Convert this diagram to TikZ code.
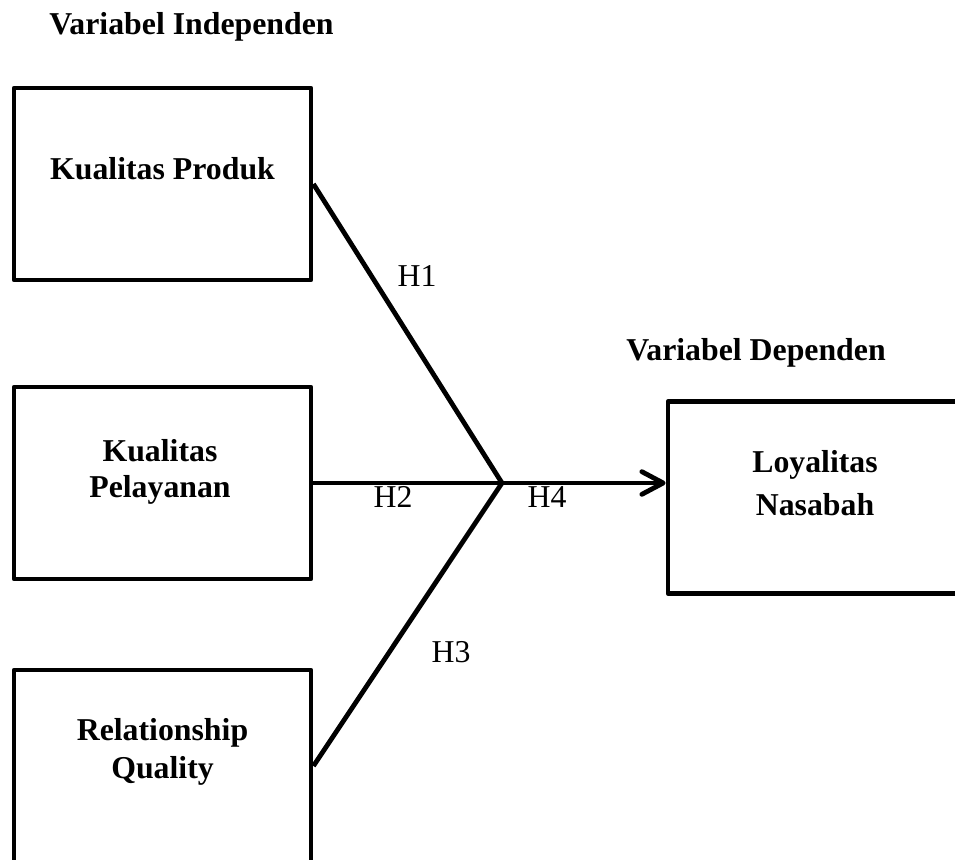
\documentclass[tikz,border=0pt]{standalone}
\usepackage{fontspec}
\setmainfont{Liberation Serif}
\usetikzlibrary{arrows.meta}

\tikzset{
  varbox/.style={draw, line width=3.6pt, line join=round, minimum width=222.75pt, minimum height=144pt, inner sep=0pt},
  link/.style={line width=3.6pt},
  headtxt/.style={font=\bfseries\fontsize{23.85}{28.5}\selectfont, anchor=base, inner sep=0pt},
  boxtxt/.style={font=\bfseries\fontsize{23.85}{28.5}\selectfont, align=center, inner sep=0pt},
  hyptxt/.style={font=\fontsize{23.85}{28.5}\selectfont, anchor=base, inner sep=0pt}
}

\begin{document}
\begin{tikzpicture}[x=0.75pt,y=0.75pt,yscale=-1,xscale=1]
    \useasboundingbox (0,0) rectangle (955,859);

    %Shape: Rectangle [Kualitas Produk]
    \node[varbox] (kp) at (162.5,184) {};
    %Shape: Rectangle [Kualitas Pelayanan]
    \node[varbox] (kpl) at (162.5,483) {};
    %Shape: Rectangle [Relationship Quality]
    \node[varbox] (rq) at (162.5,766) {};
    %Shape: Rectangle [Loyalitas Nasabah]
    \node[varbox] (ln) at (816.5,497.5) {};

    \coordinate (hub) at (502,483);

    %Straight Lines
    \draw[link] (kp.east) -- (hub) -- (rq.east);
    %Straight Lines
    \draw[link] (kpl.east) -- (hub);
    %Straight Lines
    \draw[link,-{Straight Barb[length=16pt,width=17pt,round]}] (hub) -- (hub -| ln.west);

    % Text Node
    \node[headtxt] (indep) at (191.5,35) {Variabel Independen};
    % Text Node
    \node[headtxt] (dep) at (756,360) {Variabel Dependen};
    % Text Node
    \node[boxtxt,anchor=base] (kptxt) at (162.5,180) {Kualitas Produk};
    % Text Node
    \node[boxtxt] (kpltxt) at (160,472) {Kualitas\\[-1.5pt]Pelayanan};
    % Text Node
    \node[boxtxt] (rqtxt) at (162.5,752) {Relationship\\Quality};
    % Text Node
    \node[boxtxt] (lntxt) at (815,483) {Loyalitas\\[3.75pt]Nasabah};
    % Text Node
    \node[hyptxt] (h1) at (417,286) {H1};
    % Text Node
    \node[hyptxt] (h2) at (393,507) {H2};
    % Text Node
    \node[hyptxt] (h3) at (451,662) {H3};
    % Text Node
    \node[hyptxt] (h4) at (547,507) {H4};

\end{tikzpicture}
\end{document}
